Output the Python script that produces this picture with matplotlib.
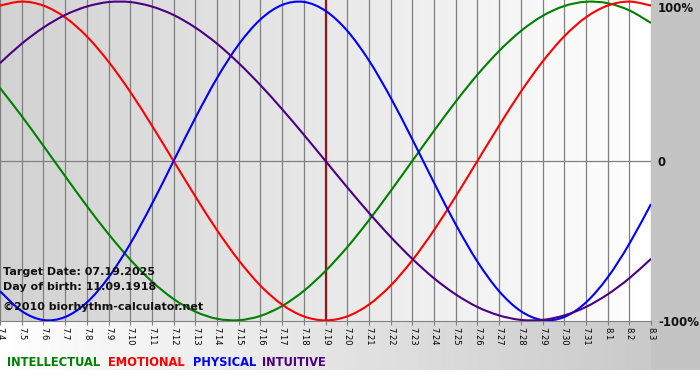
import numpy as np
import matplotlib
matplotlib.use("Agg")
import matplotlib.pyplot as plt
from matplotlib.colors import LinearSegmentedColormap
from matplotlib.path import Path
from matplotlib.patches import PathPatch

# ---- data (one value per day) ----
dates = ["7.4", "7.5", "7.6", "7.7", "7.8", "7.9", "7.10", "7.11", "7.12", "7.13",
         "7.14", "7.15", "7.16", "7.17", "7.18", "7.19", "7.20", "7.21", "7.22",
         "7.23", "7.24", "7.25", "7.26", "7.27", "7.28", "7.29", "7.30", "7.31",
         "8.1", "8.2", "8.3"]
target_date = "7.19"

intellectual = [0.458, 0.282, 0.095, -0.095, -0.282, -0.458, -0.618, -0.756, -0.866,
                -0.945, -0.990, -0.999, -0.972, -0.910, -0.815, -0.690, -0.541,
                -0.372, -0.189, 0.0, 0.189, 0.372, 0.541, 0.690, 0.815, 0.910,
                0.972, 0.999, 0.990, 0.945, 0.866]
emotional = [0.975, 1.0, 0.975, 0.901, 0.782, 0.623, 0.434, 0.222, 0.0, -0.222,
             -0.434, -0.623, -0.782, -0.901, -0.975, -1.0, -0.975, -0.901, -0.782,
             -0.623, -0.434, -0.222, 0.0, 0.222, 0.434, 0.623, 0.782, 0.901, 0.975,
             1.0, 0.975]
physical = [-0.817, -0.942, -0.998, -0.979, -0.888, -0.731, -0.520, -0.270, 0.0,
            0.270, 0.520, 0.731, 0.888, 0.979, 0.998, 0.942, 0.817, 0.631, 0.398,
            0.136, -0.136, -0.398, -0.631, -0.817, -0.942, -0.998, -0.979, -0.888,
            -0.731, -0.520, -0.270]
intuitive = [0.614, 0.736, 0.837, 0.916, 0.969, 0.997, 0.997, 0.969, 0.916, 0.837,
             0.736, 0.614, 0.476, 0.325, 0.165, 0.0, -0.165, -0.325, -0.476,
             -0.614, -0.736, -0.837, -0.916, -0.969, -0.997, -0.997, -0.969,
             -0.916, -0.837, -0.736, -0.614]

series = [("INTELLECTUAL", intellectual, "#008000"),
          ("EMOTIONAL", emotional, "#ff0000"),
          ("PHYSICAL", physical, "#0000ff"),
          ("INTUITIVE", intuitive, "#4b0082")]


def smooth_path(xs, ys):
    # Catmull-Rom through the daily points, drawn as cubic Bezier segments
    pts = np.column_stack([xs, ys]).astype(float)
    verts = [pts[0]]
    codes = [Path.MOVETO]
    n = len(pts)
    for i in range(n - 1):
        p0 = pts[max(i - 1, 0)]
        p1 = pts[i]
        p2 = pts[i + 1]
        p3 = pts[min(i + 2, n - 1)]
        c1 = p1 + (p2 - p0) / 6.0
        c2 = p2 - (p3 - p1) / 6.0
        verts += [c1, c2, p2]
        codes += [Path.CURVE4] * 3
    return Path(verts, codes)


W, H = 700, 380
fig = plt.figure(figsize=(W / 100, H / 100), dpi=100)
fig.patch.set_facecolor("white")

# ---- background panels (pixel coordinates) ----
bg = fig.add_axes([0, 0, 1, 1], zorder=-5)
bg.set_xlim(0, W)
bg.set_ylim(H, 0)
bg.axis("off")
grad = np.linspace(0, 1, 256).reshape(1, -1)
cm_bottom = LinearSegmentedColormap.from_list("b", ["#ffffff", "#c6c6c6"])
bg.imshow(grad, cmap=cm_bottom, extent=(0, W, 370, 321), aspect="auto")
bg.add_patch(plt.Rectangle((651, 0), W - 651, 370, color="#c4c4c4", lw=0))

# ---- main plot ----
x = np.arange(len(dates))
ax = fig.add_axes([0, (H - 321) / H, 651 / W, 321 / H])
ax.set_xlim(0, len(dates) - 1)
ax.set_ylim(-1.004, 1.01)
cm_plot = LinearSegmentedColormap.from_list("p", ["#d2d2d2", "#ffffff"])
ax.imshow(grad, cmap=cm_plot, extent=(0, len(dates) - 1, -1.004, 1.01),
          aspect="auto", zorder=0)

for xi in x:
    ax.axvline(xi, color="#808080", lw=0.9, zorder=1)
ax.axhline(0, color="#808080", lw=0.9, zorder=1)
ax.axvline(dates.index(target_date), color="#8b1a1a", lw=1.6, zorder=2)

for name, vals, col in series:
    ax.add_patch(PathPatch(smooth_path(x, vals), fill=False, edgecolor=col,
                           lw=1.5, zorder=3, joinstyle="round"))

for s in ["top", "left", "right"]:
    ax.spines[s].set_visible(False)
ax.spines["bottom"].set_color("#808080")
ax.set_yticks([])
ax.set_xticks(x)
ax.set_xticklabels(dates, rotation=270, fontsize=6)
ax.tick_params(axis="x", direction="out", length=3, width=0.8,
               color="#808080", pad=1.5)

# ---- info text ----
info = ["Target Date: 07.19.2025", "Day of birth: 11.09.1918",
        "\u00a92010 biorhythm-calculator.net"]
info_y = [272, 287, 307]
for t, yy in zip(info, info_y):
    fig.text(3 / W, 1 - yy / H, t, fontsize=8, fontweight="bold",
             va="center", ha="left", color="#111111")

# ---- right labels ----
for t, yy in [("100%", 8), ("0", 162), ("-100%", 322)]:
    fig.text(658 / W, 1 - yy / H, t, fontsize=8.5, fontweight="bold",
             va="center", ha="left", color="#111111")

# ---- legend ----
leg_x = [7, 108, 193, 262]
for (name, vals, col), lx in zip(series, leg_x):
    fig.text(lx / W, 1 - 362 / H, name, fontsize=8.3, fontweight="bold",
             color=col, va="center", ha="left")

fig.savefig("out.png", dpi=100)
